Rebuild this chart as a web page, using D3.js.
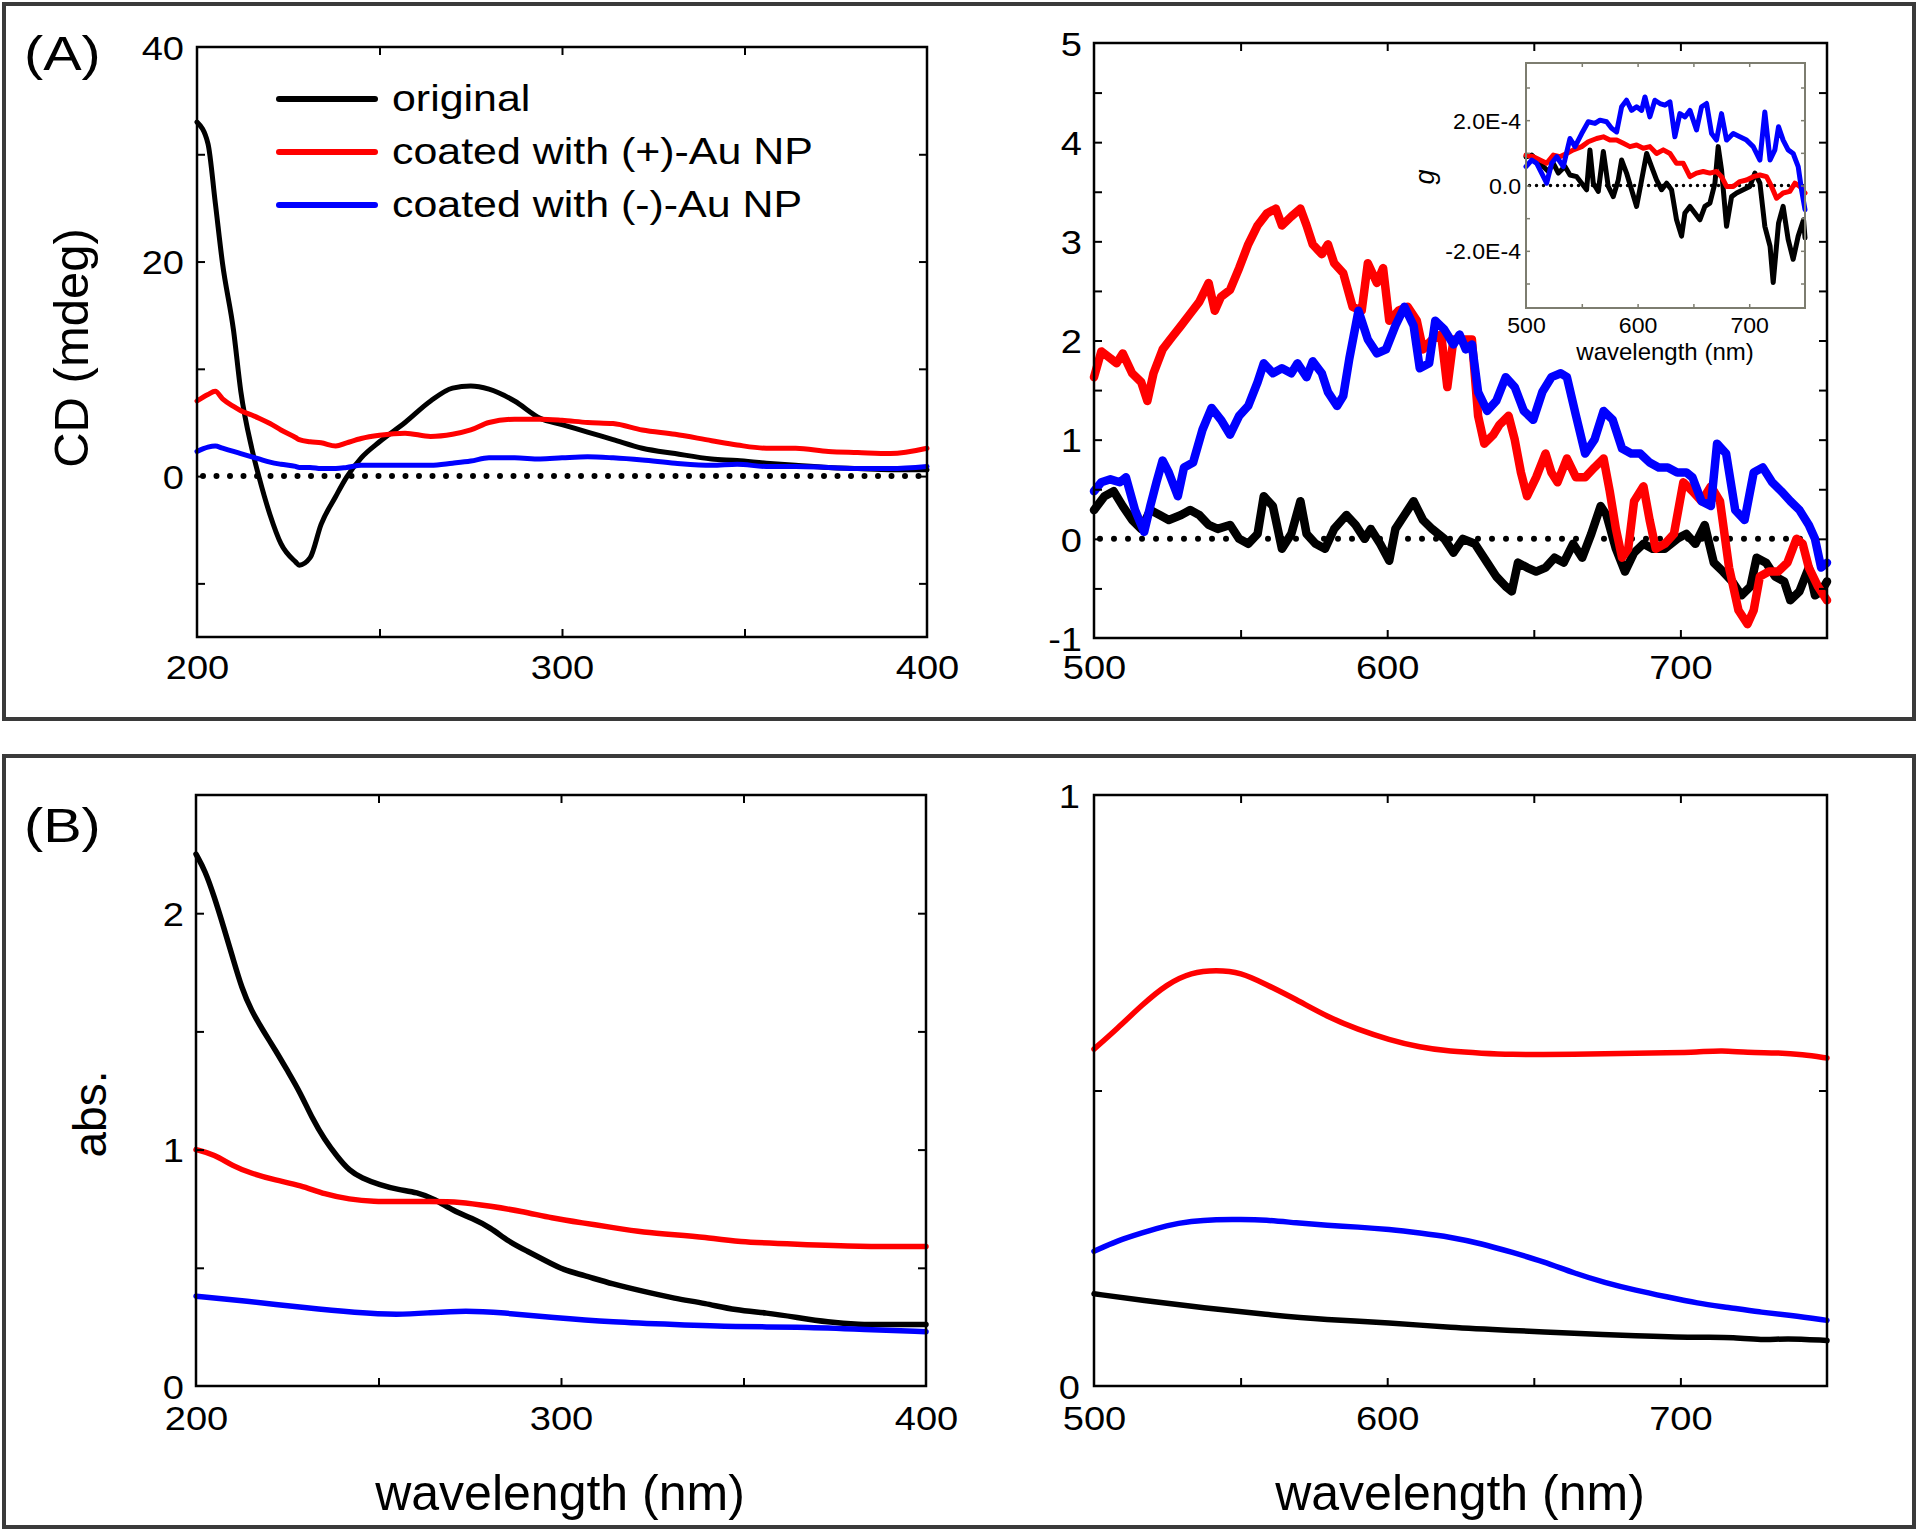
<!DOCTYPE html>
<html>
<head>
<meta charset="utf-8">
<script src="https://cdn.jsdelivr.net/npm/d3@7"></script>
<style>
  body { margin: 0; background: #fff; }
  svg text { font-family: "Liberation Sans", Arial, sans-serif; fill: #000; }
</style>
</head>
<body>
<svg id="fig" width="1920" height="1532"></svg>
<script>
// ---- (A) left: CD, 200-400 nm (mdeg) ----
var cdUvWl = [200,203,205,207,210,212,215,217,220,223,227,228,231,234,238,241,245,250,257,264,270,275,280,287,294,300,307,314,322,331,341,348,356,364,373,381,390,400];
var cdUvOriginal = [33.0,31.0,25.5,19.8,13.6,7.9,2.6,-0.1,-3.6,-6.3,-8.0,-8.3,-7.6,-4.5,-1.9,-0.1,1.7,3.2,5.0,7.0,8.2,8.4,8.1,7.0,5.4,4.8,4.1,3.4,2.6,2.1,1.6,1.45,1.2,1.0,0.8,0.7,0.6,0.6];
var cdUvPlus = [7.0,7.6,7.9,7.2,6.5,6.1,5.7,5.4,4.9,4.3,3.6,3.4,3.2,3.1,2.8,3.1,3.5,3.8,4.0,3.7,3.9,4.3,5.0,5.3,5.3,5.2,5.0,4.9,4.3,3.9,3.3,2.9,2.6,2.6,2.3,2.2,2.1,2.6];
var cdUvMinus = [2.3,2.7,2.8,2.6,2.3,2.1,1.8,1.6,1.3,1.1,0.9,0.8,0.8,0.7,0.7,0.8,1.0,1.0,1.0,1.0,1.2,1.4,1.7,1.7,1.6,1.7,1.8,1.7,1.5,1.2,1.0,1.1,0.9,0.9,0.8,0.7,0.7,0.9];

// ---- (A) right: CD, 500-750 nm, [wavelength, mdeg] ----
var cdVisOriginal = [[500,0.29],[503.6,0.43],[506.7,0.48],[509.8,0.33],[513,0.19],[516.1,0.10],[519.2,0.29],[522.4,0.24],[525.5,0.19],[529.7,0.24],[532.8,0.29],[535.9,0.24],[539.1,0.14],[542.2,0.10],[546.4,0.14],[549.5,0.0],[552.6,-0.05],[555.8,0.05],[557.9,0.43],[561,0.33],[564.1,-0.10],[567.3,0.05],[570.4,0.38],[572.5,0.05],[575.6,-0.05],[578.8,-0.10],[581.9,0.10],[586.1,0.24],[589.2,0.14],[592.3,0.0],[594.4,0.10],[597.6,-0.05],[600.7,-0.22],[602.8,0.10],[605.9,0.24],[609,0.38],[612.2,0.19],[615.3,0.10],[619.5,0.0],[622.6,-0.14],[625.8,0.0],[629.9,-0.05],[634.1,-0.24],[637.2,-0.38],[640.4,-0.48],[642.5,-0.53],[644.6,-0.24],[647.7,-0.29],[650.8,-0.33],[654,-0.29],[657.1,-0.19],[660.2,-0.24],[663.4,-0.05],[666.5,-0.19],[669.6,0.05],[672.8,0.33],[674.8,0.24],[678,-0.10],[681.1,-0.33],[684.2,-0.14],[687.4,-0.05],[690.5,-0.10],[694.7,-0.10],[698.9,0.0],[702,0.05],[705.1,-0.05],[708.3,0.14],[711.4,-0.24],[714.5,-0.33],[717.7,-0.43],[720.8,-0.57],[723.9,-0.48],[726,-0.19],[729.2,-0.24],[732.3,-0.38],[735.4,-0.43],[737.5,-0.62],[740.6,-0.53],[743.8,-0.29],[745.9,-0.57],[748,-0.53],[750,-0.43]];
var cdVisPlus = [[500,1.63],[502.5,1.89],[505.6,1.82],[507.7,1.77],[509.8,1.87],[513,1.67],[516.1,1.58],[518.2,1.39],[520.3,1.67],[523.4,1.91],[526.5,2.03],[529.7,2.15],[532.8,2.27],[535.9,2.39],[539.1,2.58],[541.2,2.30],[543.3,2.44],[546.4,2.51],[549.5,2.73],[552.6,2.97],[555.8,3.16],[558.9,3.28],[562,3.33],[564.1,3.16],[567.3,3.25],[570.4,3.33],[572.5,3.16],[574.6,2.97],[577.7,2.87],[579.8,2.97],[581.9,2.78],[585,2.68],[588.2,2.34],[591.3,2.30],[593.4,2.78],[596.5,2.58],[598.6,2.73],[600.7,2.20],[603.8,2.30],[607,2.34],[610.1,2.20],[612.2,1.91],[615.3,2.01],[618.4,2.06],[620.5,1.53],[622.6,2.01],[625.8,2.01],[628.9,2.01],[631,1.24],[633.1,0.96],[636.2,1.05],[638.3,1.15],[641.4,1.24],[643.5,1.00],[645.6,0.67],[647.7,0.43],[650.8,0.62],[654,0.86],[656,0.67],[658.1,0.57],[661.3,0.81],[664.4,0.62],[667.5,0.62],[670.7,0.72],[673.8,0.81],[675.9,0.48],[678,0.10],[680.1,-0.19],[682.2,-0.10],[684.2,0.38],[687.4,0.53],[689.5,0.19],[691.6,-0.10],[694.7,-0.05],[697.8,0.05],[701,0.57],[704.1,0.48],[707.2,0.38],[710.4,0.53],[713.5,0.38],[716.6,-0.29],[719.8,-0.72],[722.9,-0.86],[725,-0.72],[727.1,-0.38],[730.2,-0.33],[733.3,-0.33],[736.5,-0.24],[739.6,0.0],[741.7,-0.05],[743.8,-0.29],[746.9,-0.48],[750,-0.62]];
var cdVisMinus = [[500,0.48],[502.5,0.57],[505.6,0.60],[508.8,0.57],[510.9,0.62],[514,0.29],[517.1,0.07],[519.2,0.33],[521.3,0.57],[523.4,0.79],[525.5,0.67],[528.6,0.43],[530.7,0.72],[533.8,0.77],[537,1.10],[540.1,1.32],[543.3,1.20],[546.4,1.05],[549.5,1.24],[552.6,1.34],[555.8,1.58],[557.9,1.77],[561,1.67],[564.1,1.72],[567.3,1.67],[569.4,1.77],[572.5,1.63],[574.6,1.79],[577.7,1.67],[579.8,1.48],[582.9,1.34],[585,1.44],[587.1,1.82],[590.2,2.30],[593.4,2.01],[596.5,1.87],[599.6,1.91],[602.8,2.15],[605.9,2.34],[609,2.15],[611.1,1.72],[614.3,1.77],[616.4,2.20],[619.5,2.11],[622.6,1.96],[624.7,2.06],[626.8,1.91],[628.9,1.96],[631,1.48],[634.1,1.29],[637.2,1.39],[640.4,1.63],[643.5,1.53],[646.6,1.29],[649.8,1.20],[652.9,1.48],[656,1.63],[659.2,1.67],[661.3,1.63],[664.4,1.24],[667.5,0.86],[670.7,1.00],[673.8,1.29],[676.9,1.20],[680.1,0.91],[683.2,0.86],[686.3,0.86],[689.5,0.77],[692.6,0.72],[695.7,0.72],[698.9,0.67],[702,0.67],[704.1,0.62],[707.2,0.38],[710.4,0.33],[712.5,0.96],[715.6,0.86],[718.7,0.29],[721.9,0.19],[725,0.67],[728.1,0.72],[731.3,0.57],[734.4,0.48],[737.5,0.38],[740.6,0.29],[743.8,0.14],[745.9,0.0],[748,-0.29],[750,-0.24]];

// ---- (A) inset: g factor, [wavelength, g x 1e4] ----
var gOriginal = [[500,0.88],[505.1,0.93],[509.6,0.78],[515.5,0.58],[520,0.43],[524.5,0.68],[529,0.38],[534.9,0.58],[539.4,0.32],[545.4,0.27],[549.9,0.07],[554.3,-0.13],[557.3,1.09],[560.3,0.07],[564.8,-0.18],[569.3,1.04],[573.7,-0.03],[578.2,-0.34],[582.7,0.17],[585.7,0.78],[590.1,0.38],[594.6,-0.13],[599.1,-0.64],[603.6,0.17],[608.1,0.98],[612.5,0.58],[617,0.17],[621.5,-0.13],[626,0.07],[630.4,-0.13],[634.9,-1.05],[639.4,-1.55],[642.4,-0.84],[646.9,-0.64],[651.3,-0.84],[655.8,-1.05],[660.3,-0.64],[664.8,-0.54],[669.3,0.07],[672.2,1.19],[675.2,0.48],[679.7,-1.25],[684.2,-0.34],[688.7,-0.23],[694.6,-0.13],[700.6,-0.03],[705.1,0.38],[709.6,0.07],[714,-1.25],[718.7,-1.86],[721.5,-2.97],[726.3,-1.15],[730.4,-0.64],[734.9,-1.65],[739.4,-2.26],[743.9,-1.55],[748.7,-1.05],[750,-1.6]];
var gPlus = [[500,0.93],[506.6,0.88],[512.5,0.78],[518.5,0.68],[524.5,0.93],[530.4,0.88],[536.4,0.98],[542.4,1.09],[549.9,1.19],[555.8,1.34],[563.3,1.44],[569.3,1.49],[575.2,1.39],[581.2,1.39],[587.2,1.29],[593.1,1.19],[599.1,1.24],[605.1,1.14],[611,1.19],[617,0.98],[623,1.09],[629,0.98],[634.9,0.68],[640.9,0.68],[646.9,0.27],[652.8,0.38],[658.8,0.43],[664.8,0.38],[670.7,0.43],[675.2,0.27],[679.7,-0.03],[685.7,-0.03],[691.6,0.12],[697.6,0.17],[703.6,0.27],[709.6,0.32],[715.5,0.27],[720,-0.03],[724.5,-0.39],[730.4,-0.23],[736.4,-0.18],[740.9,0.07],[745.4,-0.03],[750,-0.23]];
var gMinus = [[500,0.58],[505.1,0.78],[509.6,0.68],[514,0.38],[518.5,0.07],[523,0.68],[527.5,0.88],[533.4,0.58],[539.4,1.44],[543.9,1.19],[549.9,1.59],[555.8,1.95],[561.8,1.90],[566.3,2.0],[572.2,1.95],[576.7,1.75],[581.2,1.64],[585.7,2.41],[590.1,2.61],[594.6,2.30],[599.1,2.41],[603.6,2.30],[606.6,2.71],[611,2.10],[615.5,2.61],[620,2.51],[624.5,2.46],[629,2.56],[633.4,1.49],[637.9,2.20],[642.4,2.10],[646.9,2.30],[652.8,1.70],[657.3,2.41],[661.8,2.51],[666.3,1.59],[670.7,1.39],[675.2,2.20],[679.7,1.39],[685.7,1.59],[691.6,1.49],[697.6,1.39],[703.6,1.19],[709.6,0.78],[714,2.25],[718.7,0.78],[723,1.09],[726.3,1.80],[730.4,1.39],[734.9,1.09],[739.4,0.98],[743.9,0.58],[746.9,-0.13],[750,-0.74]];

// ---- (B) left: absorbance, 200-400 nm ----
var absUvOriginal = [[200,2.25],[202.5,2.18],[205,2.07],[207.6,1.94],[210.1,1.81],[212.6,1.68],[215.1,1.59],[218.5,1.50],[221.8,1.42],[225.2,1.33],[228.6,1.24],[231.9,1.13],[235.3,1.04],[238.7,0.97],[242,0.91],[245.4,0.88],[250.4,0.85],[255.5,0.83],[260.5,0.82],[265.5,0.79],[270.6,0.74],[275.6,0.71],[280.7,0.67],[285.7,0.61],[290.8,0.57],[295.8,0.53],[300.8,0.49],[305.9,0.47],[314.3,0.43],[322.7,0.40],[331.1,0.37],[339.5,0.35],[347.9,0.32],[356.3,0.31],[364.7,0.29],[373.1,0.27],[381.5,0.26],[389.9,0.26],[400,0.26]];
var absUvPlus = [[200,1.00],[205,0.98],[210.1,0.93],[215.1,0.90],[221.8,0.87],[228.6,0.85],[235.3,0.81],[242,0.79],[248.7,0.78],[255.5,0.78],[263.9,0.78],[272.3,0.78],[280.7,0.76],[289.1,0.74],[297.5,0.71],[305.9,0.69],[314.3,0.67],[322.7,0.65],[331.1,0.64],[339.5,0.63],[347.9,0.61],[364.7,0.60],[381.5,0.59],[400,0.59]];
var absUvMinus = [[200,0.38],[213.4,0.36],[230.3,0.33],[243.7,0.31],[255.5,0.30],[263.9,0.31],[273.9,0.32],[284,0.31],[297.5,0.29],[314.3,0.27],[331.1,0.26],[347.9,0.25],[364.7,0.25],[381.5,0.24],[400,0.23]];

// ---- (B) right: absorbance, 500-750 nm ----
var absVisOriginal = [[500,0.156],[516.4,0.145],[537.5,0.132],[558.5,0.121],[579.5,0.112],[600.6,0.107],[621.6,0.099],[642.7,0.094],[663.7,0.089],[684.8,0.085],[705.8,0.082],[718.4,0.083],[729,0.077],[735.3,0.081],[750,0.077]];
var absVisPlus = [[500,0.570],[508,0.605],[516.4,0.645],[524.8,0.680],[533.2,0.700],[541.7,0.704],[550.1,0.700],[558.5,0.680],[569,0.654],[579.5,0.625],[590.1,0.603],[600.6,0.586],[611.1,0.573],[621.6,0.566],[632.2,0.563],[642.7,0.561],[653.2,0.561],[663.7,0.561],[674.2,0.562],[684.8,0.563],[695.3,0.564],[705.8,0.565],[714.2,0.568],[722.6,0.564],[733.2,0.564],[741.6,0.561],[750,0.555]];
var absVisMinus = [[500,0.228],[508,0.246],[516.4,0.259],[524.8,0.272],[533.2,0.279],[541.7,0.282],[550.1,0.282],[558.5,0.281],[569,0.276],[579.5,0.272],[590.1,0.269],[600.6,0.265],[611.1,0.259],[621.6,0.252],[632.2,0.241],[642.7,0.226],[653.2,0.211],[663.7,0.191],[674.2,0.175],[684.8,0.162],[695.3,0.151],[705.8,0.140],[716.3,0.133],[726.9,0.125],[737.4,0.120],[750,0.111]];

// legend + ticks
var seriesNames = ["original", "coated with (+)-Au NP", "coated with (-)-Au NP"];
var seriesColors = ["#000000", "#ff0000", "#0000ff"];
var uvTicks = [250, 300, 350];
var uvLabels = [200, 300, 400];
var visTicks = [550, 600, 650, 700];
var visLabels = [500, 600, 700];
var cdUvYTicks = [-10, 0, 10, 20, 30];
var cdUvYLabels = [0, 20, 40];
var cdVisYTicks = [-0.5, 0, 0.5, 1, 1.5, 2, 2.5, 3, 3.5, 4, 4.5];
var cdVisYLabels = [-1, 0, 1, 2, 3, 4, 5];
var gYTicks = [-3, -2, -1, 0, 1, 2, 3];
var gYLabelVals = [-2, 0, 2];
var gYLabelText = ["-2.0E-4", "0.0", "2.0E-4"];
var absUvYTicks = [0.5, 1, 1.5, 2];
var absUvYLabels = [0, 1, 2];
var absVisYTicks = [0.5];
var absVisYLabels = [0, 1];

var svg = d3.select("#fig");
var FONT = "Liberation Sans, Arial, sans-serif";

// panel boxes
svg.append("rect").attr("x", 4).attr("y", 4).attr("width", 1910).attr("height", 715)
    .attr("fill", "none").attr("stroke", "#3a3a3a").attr("stroke-width", 4);
svg.append("rect").attr("x", 4).attr("y", 756).attr("width", 1910).attr("height", 771)
    .attr("fill", "none").attr("stroke", "#3a3a3a").attr("stroke-width", 4);

function pickLabel(vals, texts) {
    return function (d) {
        var i = vals.indexOf(d);
        if (i < 0) return "";
        return texts ? texts[i] : String(d);
    };
}

// tick values plus label-only values (label without a tick mark)
function withLabels(ticks, labels) {
    return ticks.concat(labels.filter(function (v) { return ticks.indexOf(v) < 0; }));
}

function plotFrame(c) {
    var g = svg.append("g");
    if (c.bg) {
        g.append("rect").attr("x", c.left).attr("y", c.top)
            .attr("width", c.right - c.left).attr("height", c.bottom - c.top).attr("fill", c.bg);
    }
    var lines = g.append("g");
    var x = d3.scaleLinear().domain(c.xDomain).range([c.left, c.right]);
    var y = d3.scaleLinear().domain(c.yDomain).range([c.bottom, c.top]);

    var ax = g.append("g");
    var bottom = ax.append("g").attr("transform", "translate(0," + c.bottom + ")")
        .call(d3.axisBottom(x).tickValues(withLabels(c.xTicks, c.xLabels))
            .tickSizeInner(-c.tick).tickSizeOuter(0)
            .tickFormat(pickLabel(c.xLabels)));
    ax.append("g").attr("transform", "translate(0," + c.top + ")")
        .call(d3.axisTop(x).tickValues(c.xTicks).tickSizeInner(-c.tick).tickSizeOuter(0).tickFormat(""));
    var left = ax.append("g").attr("transform", "translate(" + c.left + ",0)")
        .call(d3.axisLeft(y).tickValues(withLabels(c.yTicks, c.yLabels))
            .tickSizeInner(-c.tick).tickSizeOuter(0)
            .tickFormat(pickLabel(c.yLabels, c.yLabelText)));
    ax.append("g").attr("transform", "translate(" + c.right + ",0)")
        .call(d3.axisRight(y).tickValues(c.yTicks).tickSizeInner(-c.tick).tickSizeOuter(0).tickFormat(""));

    ax.selectAll(".domain").remove();
    ax.selectAll(".tick line").attr("stroke", c.color).attr("stroke-width", c.tickWidth);
    bottom.selectAll(".tick").filter(function (d) { return c.xTicks.indexOf(d) < 0; })
        .select("line").remove();
    left.selectAll(".tick").filter(function (d) { return c.yTicks.indexOf(d) < 0; })
        .select("line").remove();

    bottom.selectAll("text")
        .attr("y", c.xLabelY - c.bottom).attr("dy", null)
        .attr("font-size", c.fontSize).attr("font-family", FONT).attr("fill", "#000")
        .attr("transform", "scale(" + c.sx + ",1)");
    left.selectAll("text")
        .attr("x", (c.yLabelX - c.left) / c.sx).attr("dy", "0.36em")
        .attr("font-size", c.fontSize).attr("font-family", FONT).attr("fill", "#000")
        .attr("transform", "scale(" + c.sx + ",1)");

    ax.append("rect").attr("x", c.left).attr("y", c.top)
        .attr("width", c.right - c.left).attr("height", c.bottom - c.top)
        .attr("fill", "none").attr("stroke", c.color).attr("stroke-width", c.frameWidth);

    return { lines: lines, x: x, y: y, c: c };
}

function zeroLine(p, width, gap) {
    p.lines.append("line")
        .attr("x1", p.x(p.c.xDomain[0]) + width).attr("x2", p.x(p.c.xDomain[1]))
        .attr("y1", p.y(0)).attr("y2", p.y(0))
        .attr("stroke", "#000").attr("stroke-width", width)
        .attr("stroke-linecap", "round").attr("stroke-dasharray", "0," + gap);
}

function addSeries(p, data, color, width, curve) {
    var line = d3.line()
        .x(function (d) { return p.x(d[0]); })
        .y(function (d) { return p.y(d[1]); })
        .curve(curve);
    p.lines.append("path").datum(data)
        .attr("d", line).attr("fill", "none")
        .attr("stroke", color).attr("stroke-width", width)
        .attr("stroke-linejoin", "round").attr("stroke-linecap", "round");
}

function text(x, y, s, size, opts) {
    opts = opts || {};
    var sx = opts.sx || 1;
    var tr = "translate(" + x + "," + y + ")";
    if (opts.rotate) tr += " rotate(" + opts.rotate + ")";
    tr += " scale(" + sx + ",1)";
    return svg.append("text").attr("transform", tr)
        .attr("font-size", size).attr("font-family", FONT)
        .attr("font-style", opts.italic ? "italic" : null)
        .attr("text-anchor", opts.anchor || "start")
        .attr("fill", "#000").text(s);
}

var zipUv = function (vals) { return cdUvWl.map(function (w, i) { return [w, vals[i]]; }); };

// ===== (A) left =====
var pA1 = plotFrame({
    left: 197, right: 927, top: 47, bottom: 637,
    xDomain: [200, 400], yDomain: [-15, 40],
    xTicks: uvTicks, xLabels: uvLabels, yTicks: cdUvYTicks, yLabels: cdUvYLabels,
    tick: 8, tickWidth: 2, frameWidth: 2.5, color: "#000",
    xLabelY: 679, yLabelX: 184, fontSize: 34, sx: 1.12
});
zeroLine(pA1, 6, 13.5);
addSeries(pA1, zipUv(cdUvOriginal), seriesColors[0], 5, d3.curveMonotoneX);
addSeries(pA1, zipUv(cdUvPlus), seriesColors[1], 5, d3.curveMonotoneX);
addSeries(pA1, zipUv(cdUvMinus), seriesColors[2], 5, d3.curveMonotoneX);

// legend
var legendRows = [99, 152, 205];
seriesNames.forEach(function (name, i) {
    svg.append("line").attr("x1", 279).attr("x2", 375)
        .attr("y1", legendRows[i]).attr("y2", legendRows[i])
        .attr("stroke", seriesColors[i]).attr("stroke-width", 6).attr("stroke-linecap", "round");
    text(392, legendRows[i] + 12, name, 37, { sx: 1.16 });
});

// ===== (A) right =====
var pA2 = plotFrame({
    left: 1094, right: 1827, top: 43, bottom: 638,
    xDomain: [500, 750], yDomain: [-1, 5],
    xTicks: visTicks, xLabels: visLabels, yTicks: cdVisYTicks, yLabels: cdVisYLabels,
    tick: 8, tickWidth: 2, frameWidth: 2.5, color: "#000",
    xLabelY: 679, yLabelX: 1082, fontSize: 34, sx: 1.12
});
zeroLine(pA2, 6, 14);
addSeries(pA2, cdVisOriginal, seriesColors[0], 8.5, d3.curveLinear);
addSeries(pA2, cdVisPlus, seriesColors[1], 8.5, d3.curveLinear);
addSeries(pA2, cdVisMinus, seriesColors[2], 8.5, d3.curveLinear);

// inset
var pIn = plotFrame({
    left: 1526, right: 1805, top: 63, bottom: 308, bg: "#fff",
    xDomain: [500, 750], yDomain: [-3.75, 3.75],
    xTicks: visTicks, xLabels: visLabels, yTicks: gYTicks,
    yLabels: gYLabelVals, yLabelText: gYLabelText,
    tick: 4, tickWidth: 1.5, frameWidth: 2, color: "#7d7d70",
    xLabelY: 333, yLabelX: 1521, fontSize: 22, sx: 1.05
});
zeroLine(pIn, 3.5, 7);
addSeries(pIn, gOriginal, seriesColors[0], 5, d3.curveLinear);
addSeries(pIn, gPlus, seriesColors[1], 5, d3.curveLinear);
addSeries(pIn, gMinus, seriesColors[2], 5, d3.curveLinear);
text(1665, 360, "wavelength (nm)", 24, { anchor: "middle" });
text(1434, 177, "g", 27, { anchor: "middle", rotate: -90, italic: true });

// ===== (B) left =====
var pB1 = plotFrame({
    left: 196, right: 926, top: 795, bottom: 1386,
    xDomain: [200, 400], yDomain: [0, 2.5],
    xTicks: uvTicks, xLabels: uvLabels, yTicks: absUvYTicks, yLabels: absUvYLabels,
    tick: 8, tickWidth: 2, frameWidth: 2.5, color: "#000",
    xLabelY: 1430, yLabelX: 184, fontSize: 34, sx: 1.12
});
addSeries(pB1, absUvOriginal, seriesColors[0], 5.5, d3.curveBasis);
addSeries(pB1, absUvPlus, seriesColors[1], 5.5, d3.curveBasis);
addSeries(pB1, absUvMinus, seriesColors[2], 5.5, d3.curveBasis);

// ===== (B) right =====
var pB2 = plotFrame({
    left: 1094, right: 1827, top: 795, bottom: 1386,
    xDomain: [500, 750], yDomain: [0, 1],
    xTicks: visTicks, xLabels: visLabels, yTicks: absVisYTicks, yLabels: absVisYLabels,
    tick: 8, tickWidth: 2, frameWidth: 2.5, color: "#000",
    xLabelY: 1430, yLabelX: 1080, fontSize: 34, sx: 1.12
});
addSeries(pB2, absVisOriginal, seriesColors[0], 5.5, d3.curveBasis);
addSeries(pB2, absVisPlus, seriesColors[1], 5.5, d3.curveBasis);
addSeries(pB2, absVisMinus, seriesColors[2], 5.5, d3.curveBasis);

// panel letters and axis titles
text(24, 70, "(A)", 48, { sx: 1.2 });
text(24, 842, "(B)", 48, { sx: 1.2 });
text(88, 348, "CD (mdeg)", 49, { anchor: "middle", rotate: -90 });
text(106, 1114, "abs.", 46, { anchor: "middle", rotate: -90 });
text(560, 1510, "wavelength (nm)", 50, { anchor: "middle" });
text(1460, 1510, "wavelength (nm)", 50, { anchor: "middle" });
</script>
</body>
</html>
